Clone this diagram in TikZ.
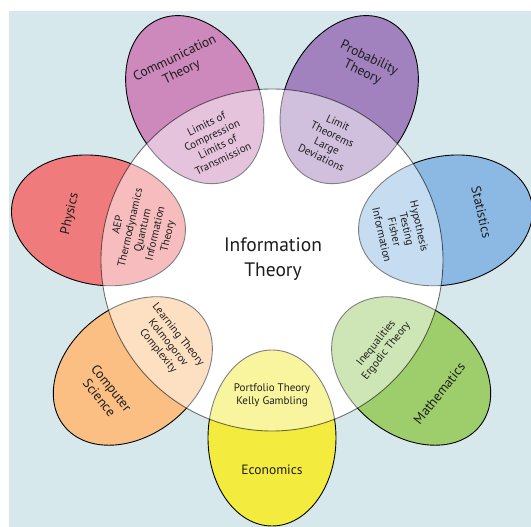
\documentclass[tikz,border=0pt]{standalone}
\usepackage{fontspec}
\setmainfont{PT Sans}
\definecolor{bgc}{HTML}{D6E8EB}
\definecolor{commc}{HTML}{CD88BC}
\definecolor{probc}{HTML}{A282BE}
\definecolor{statc}{HTML}{8BB9E3}
\definecolor{physc}{HTML}{F07B7D}
\definecolor{csc}{HTML}{FBBF84}
\definecolor{mathc}{HTML}{9DCE6B}
\definecolor{econc}{HTML}{F3EB3D}
\definecolor{txt}{HTML}{1E1E1E}
\tikzset{
  petal/.style={draw=black, line width=0.9pt},
  outerlbl/.style={align=center, inner sep=0pt, text=txt, font=\fontsize{13.5}{15.5}\selectfont},
  innerlbl/.style={align=center, inner sep=0pt, text=txt, font=\fontsize{11}{12.8}\selectfont},
  centerlbl/.style={align=center, inner sep=0pt, text=txt, font=\fontsize{19.5}{25}\selectfont}
}
\begin{document}
\begin{tikzpicture}[x=1pt,y=1pt]
\useasboundingbox (-272,-267) rectangle (259,260);
\fill[bgc] (-263,-267) rectangle (259,249);
\fill[white] (0,0) circle (171);
% petals
\foreach \ang/\col in {270/econc, 321.43/mathc, 12.86/statc, 64.29/probc, 115.71/commc, 167.14/physc, 218.57/csc}{
  \filldraw[petal, fill=\col, rotate around={\ang:(\ang:178)}] (\ang:178) ellipse [x radius=88, y radius=64];
}
\begin{scope}
  \clip (0,0) circle (171);
  \fill[white, opacity=0.5] (0,0) circle (171);
\end{scope}
\draw[black, draw opacity=0.55, line width=0.9pt] (0,0) circle (171);
% center
\node[centerlbl] (it) at (1,1) {Information\\Theory};
% outer labels
\node[outerlbl, rotate=0]      (econ) at (270:210)    {Economics};
\node[outerlbl, rotate=51.43]  (math) at (321.43:214) {Mathematics};
\node[outerlbl, rotate=-77.14] (stat) at (12.86:215)  {Statistics};
\node[outerlbl, rotate=-25.71] (prob) at (64.29:216)  {Probability\\Theory};
\node[outerlbl, rotate=25.71]  (comm) at (115.71:216) {Communication\\Theory};
\node[outerlbl, rotate=77.14]  (phys) at (167.14:207) {Physics};
\node[outerlbl, rotate=-51.43] (cs)   at (218.57:213) {Computer\\Science};
% inner labels
\node[innerlbl, rotate=0]      (econi) at (270:135)    {Portfolio Theory\\Kelly Gambling};
\node[innerlbl, rotate=51.43]  (mathi) at (321.43:140) {Inequalities\\Ergodic Theory};
\node[innerlbl, rotate=-77.14] (stati) at (12.86:132)  {Hypothesis\\Testing\\Fisher\\Information};
\node[innerlbl, rotate=-25.71] (probi) at (64.29:133)  {Limit\\Theorems\\Large\\Deviations};
\node[innerlbl, rotate=25.71]  (commi) at (115.71:132) {Limits of\\Compression\\Limits of\\Transmission};
\node[innerlbl, rotate=77.14]  (physi) at (167.14:132) {AEP\\Thermodynamics\\Quantum\\Information\\Theory};
\node[innerlbl, rotate=-51.43] (csi)   at (218.57:133) {Learning Theory\\Kolmogorov\\Complexity};
\end{tikzpicture}
\end{document}
